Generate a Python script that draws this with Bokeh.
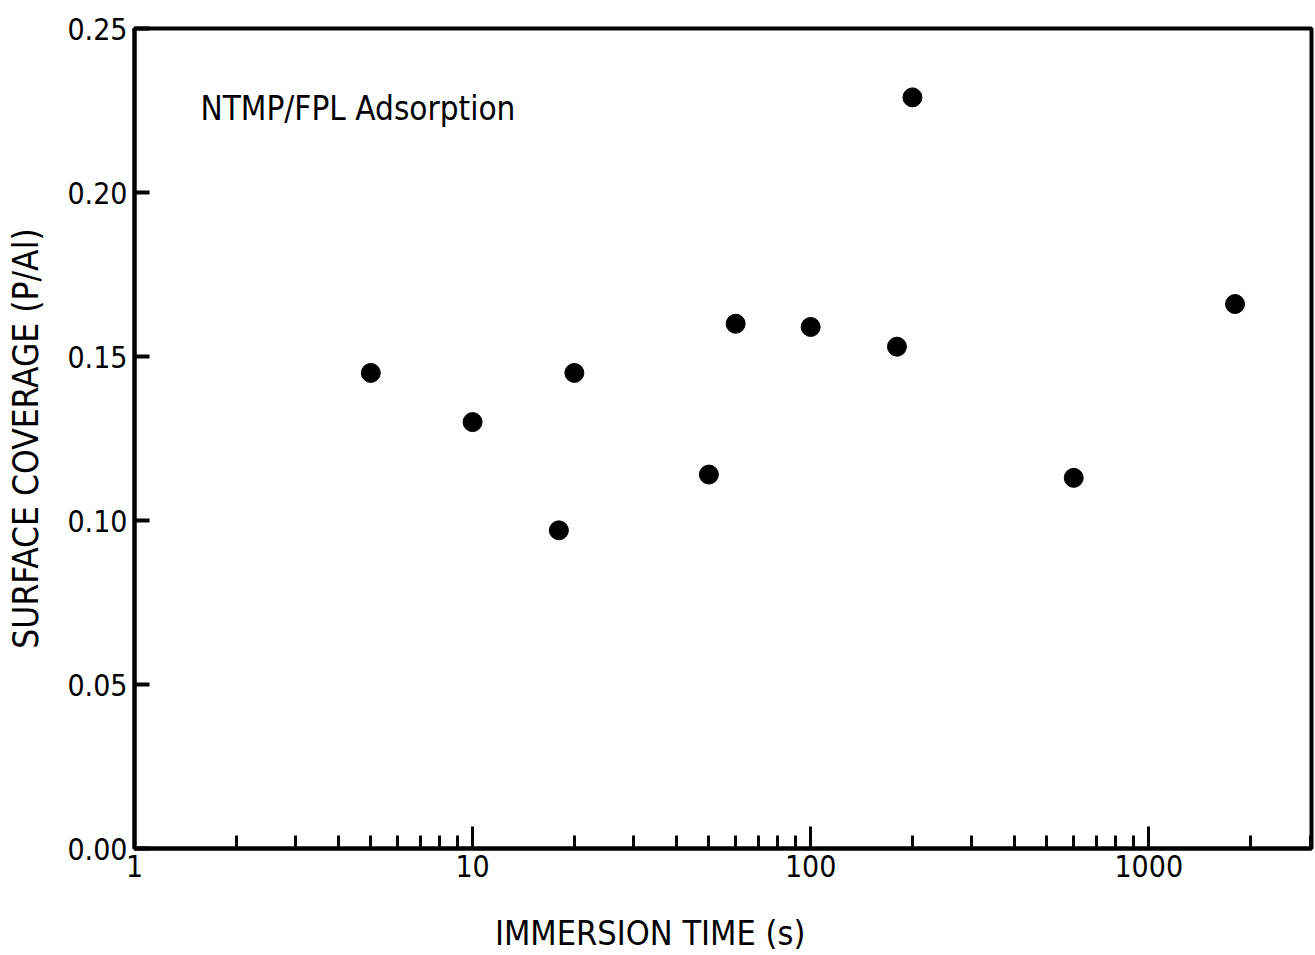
from bokeh.plotting import figure
from bokeh.models import Range1d, LogTicker, FixedTicker, Label, CustomJSTickFormatter
from bokeh.embed import file_html
from bokeh.resources import INLINE

# Data
immersion_time = [5, 10, 18, 20, 50, 60, 100, 180, 200, 600, 1800]
surface_coverage = [0.145, 0.130, 0.097, 0.145, 0.114, 0.160, 0.159, 0.153, 0.229, 0.113, 0.166]
y_ticks = [0.0, 0.05, 0.10, 0.15, 0.20, 0.25]
y_tick_labels = ["0.00", "0.05", "0.10", "0.15", "0.20", "0.25"]
x_label = "IMMERSION TIME (s)"
y_label = "SURFACE COVERAGE (P/Al)"
annotation = "NTMP/FPL Adsorption"

FONT = "DejaVu Sans Condensed"

p = figure(width=1315, height=955, x_axis_type="log",
           x_range=Range1d(1, 3030), y_range=Range1d(0, 0.25),
           output_backend="svg", toolbar_location=None,
           min_border_left=134, min_border_right=4,
           min_border_top=28, min_border_bottom=105)

p.grid.visible = False
p.background_fill_color = "white"
p.border_fill_color = "white"
p.outline_line_color = "black"
p.outline_line_width = 4

p.scatter(immersion_time, surface_coverage, size=19, color="black")

# X axis
xa = p.xaxis[0]
xa.ticker = LogTicker(num_minor_ticks=10, desired_num_ticks=4)
xa.axis_line_width = 4
xa.axis_line_color = "black"
xa.major_tick_in = 22
xa.major_tick_out = 0
xa.major_tick_line_width = 3
xa.minor_tick_in = 13
xa.minor_tick_out = 0
xa.minor_tick_line_width = 3
xa.major_label_text_font = FONT
xa.major_label_text_font_size = "30px"
xa.major_label_text_color = "black"
xa.major_label_standoff = 6
xa.formatter = CustomJSTickFormatter(code="return tick.toFixed(0);")
# the original title sits left of the frame centre; trailing no-break spaces shift it
xa.axis_label = x_label + "\u00a0" * 15
xa.axis_label_text_font = FONT
xa.axis_label_text_font_style = "normal"
xa.axis_label_text_font_size = "34px"
xa.axis_label_text_color = "black"
xa.axis_label_standoff = 33

# Y axis
ya = p.yaxis[0]
ya.ticker = FixedTicker(ticks=y_ticks, minor_ticks=[])
ya.major_label_overrides = {t: l for t, l in zip(y_ticks, y_tick_labels)}
ya.axis_line_width = 4
ya.axis_line_color = "black"
ya.major_tick_in = 15
ya.major_tick_out = 0
ya.major_tick_line_width = 4
ya.minor_tick_in = 0
ya.minor_tick_out = 0
ya.major_label_text_font = FONT
ya.major_label_text_font_size = "30px"
ya.major_label_text_color = "black"
ya.major_label_standoff = 7
ya.axis_label = y_label
ya.axis_label_text_font = FONT
ya.axis_label_text_font_style = "normal"
ya.axis_label_text_font_size = "35px"
ya.axis_label_text_color = "black"
ya.axis_label_standoff = 18

p.add_layout(Label(x=200 - 134, y=850 - 110, x_units="screen", y_units="screen",
                   text=annotation, text_font=FONT, text_font_size="33px",
                   text_color="black", text_baseline="middle", text_align="left"))

open("out.html", "w").write(file_html(p, INLINE))
